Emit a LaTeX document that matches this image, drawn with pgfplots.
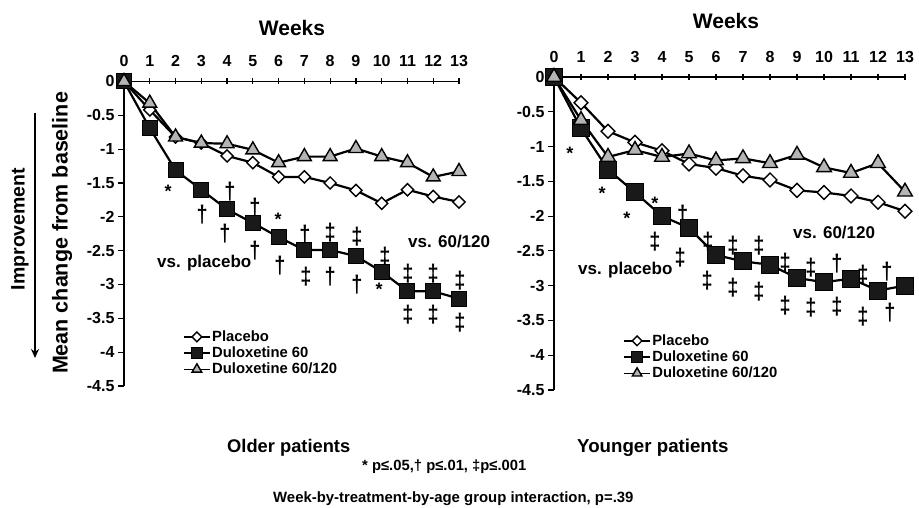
\documentclass[border=0pt]{standalone}
\usepackage{graphicx}
\usepackage{pgfplots}
\pgfplotsset{compat=1.18}
\usetikzlibrary{arrows.meta}
\usepackage{fontspec}
\setmainfont{Liberation Sans}
\definecolor{trigray}{RGB}{180,180,180}
\newcommand\fs[1]{\fontsize{#1}{#1}\selectfont\bfseries}
\newcommand\ann[3]{\node[font=\fs{18},inner sep=0pt] at (axis cs:#1,#2) {#3};}
\newcommand\dg{\scalebox{1}[1.2]{\fs{20}†}}
\newcommand\ddg{\scalebox{1}[1.2]{\fs{20}‡}}
\pgfplotsset{
  panel/.style={
    scale only axis, clip=false,
    xmin=0, xmax=13, ymin=-4.5, ymax=0,
    axis x line*=top, axis y line*=left,
    axis line style={line width=1.4pt},
    xtick={0,1,2,3,4,5,6,7,8,9,10,11,12,13},
    xticklabels={0,1,2,3,4,5,6,7,8,9,10,11,12,13},
    ytick={-4.5,-4,-3.5,-3,-2.5,-2,-1.5,-1,-0.5,0},
    yticklabels={-4.5,-4,-3.5,-3,-2.5,-2,-1.5,-1,-0.5,0},
    tick align=outside, major tick length=6pt,
    tick style={line width=1.2pt, black},
    xtick style={yshift=-3pt},
    ticklabel style={font=\fs{16}},
    xticklabel style={yshift=5pt},
    legend cell align=left,
    legend style={draw=none, fill=none, font=\fs{14.8}, anchor=north west,
      inner sep=0pt, row sep=1pt, nodes={inner sep=1.5pt}},
    legend image code/.code={\draw[mark repeat=2,mark phase=2,##1] plot coordinates {(0pt,0pt) (13pt,0pt) (26pt,0pt)};},
  },
  pl/.style={black, line width=2.2pt, mark=square*, mark options={rotate=45, fill=white, line width=1.4pt}},
  dl/.style={black, line width=2.2pt, mark=square*, mark options={fill=black!90, line width=1pt}},
  tl/.style={black, line width=2.2pt, mark=triangle*, mark options={fill=trigray, line width=1.4pt}},
}
\begin{document}
\begin{tikzpicture}[x=1pt,y=1pt]
\path[use as bounding box] (0,0) rectangle (919,508);

% ---------------- Older patients ----------------
\begin{axis}[panel, width=335pt, height=304.5pt, at={(124pt,122pt)}, anchor=south west,
  legend style={at={(0.176,0.187)}}]
\addplot[pl, mark size=4.3pt, legend image post style={mark size=3.4pt, line width=1.5pt}] coordinates {
(0,0)(1,-0.42)(2,-0.82)(3,-0.91)(4,-1.1)(5,-1.2)(6,-1.41)(7,-1.41)(8,-1.5)(9,-1.61)(10,-1.8)(11,-1.6)(12,-1.7)(13,-1.78)};
\addlegendentry{Placebo}
\addplot[dl, mark size=7.5pt, legend image post style={mark size=5.2pt, line width=1.5pt}] coordinates {
(0,0)(1,-0.69)(2,-1.31)(3,-1.6)(4,-1.89)(5,-2.09)(6,-2.3)(7,-2.49)(8,-2.49)(9,-2.58)(10,-2.81)(11,-3.1)(12,-3.1)(13,-3.21)};
\addlegendentry{Duloxetine 60}
\addplot[tl, mark size=8pt, legend image post style={mark size=5.5pt, line width=1.5pt}] coordinates {
(0,0)(1,-0.32)(2,-0.82)(3,-0.91)(4,-0.92)(5,-1.01)(6,-1.2)(7,-1.11)(8,-1.11)(9,-0.99)(10,-1.11)(11,-1.2)(12,-1.41)(13,-1.33)};
\addlegendentry{Duloxetine 60/120}
\ann{1.71}{-1.63}{*}
\ann{4.11}{-1.63}{\dg}
\ann{3.03}{-1.96}{\dg}
\ann{5.08}{-1.87}{\dg}
\ann{5.98}{-2.04}{*}
\ann{3.92}{-2.25}{\dg}
\ann{7.02}{-2.26}{\dg}
\ann{8.0}{-2.24}{\ddg}
\ann{9.04}{-2.29}{\ddg}
\ann{5.08}{-2.5}{\dg}
\ann{6.05}{-2.72}{\dg}
\ann{7.06}{-2.88}{\ddg}
\ann{8.0}{-2.88}{\dg}
\ann{9.04}{-3.0}{\dg}
\ann{10.13}{-2.59}{\ddg}
\ann{9.9}{-3.07}{*}
\ann{11.02}{-2.84}{\ddg}
\ann{12.0}{-2.84}{\ddg}
\ann{13.04}{-2.94}{\ddg}
\ann{11.02}{-3.44}{\ddg}
\ann{12.0}{-3.44}{\ddg}
\ann{13.04}{-3.56}{\ddg}
\node[font=\fs{17}, anchor=west, inner sep=0pt] at (axis cs:11.02,-2.37) {vs. 60/120};
\node[font=\fs{17}, anchor=west, inner sep=0pt] at (axis cs:1.28,-2.68) {vs. placebo};
\end{axis}

% ---------------- Younger patients ----------------
\begin{axis}[panel, width=351pt, height=313pt, at={(554pt,118pt)}, anchor=south west,
  legend style={at={(0.197,0.182)}}]
\addplot[pl, mark size=4.9pt, legend image post style={mark size=3.4pt, line width=1.5pt}] coordinates {
(0,0)(1,-0.37)(2,-0.78)(3,-0.94)(4,-1.06)(5,-1.25)(6,-1.31)(7,-1.42)(8,-1.48)(9,-1.63)(10,-1.66)(11,-1.71)(12,-1.8)(13,-1.93)};
\addlegendentry{Placebo}
\addplot[dl, mark size=8.5pt, legend image post style={mark size=5.2pt, line width=1.5pt}] coordinates {
(0,0)(1,-0.74)(2,-1.33)(3,-1.66)(4,-2.0)(5,-2.17)(6,-2.56)(7,-2.65)(8,-2.7)(9,-2.89)(10,-2.95)(11,-2.9)(12,-3.07)(13,-3.0)};
\addlegendentry{Duloxetine 60}
\addplot[tl, mark size=8.5pt, legend image post style={mark size=5.5pt, line width=1.5pt}] coordinates {
(0,0)(1,-0.62)(2,-1.15)(3,-1.05)(4,-1.15)(5,-1.1)(6,-1.2)(7,-1.17)(8,-1.24)(9,-1.12)(10,-1.3)(11,-1.38)(12,-1.24)(13,-1.65)};
\addlegendentry{Duloxetine 60/120}
\ann{0.59}{-1.09}{*}
\ann{1.78}{-1.67}{*}
\ann{2.7}{-2.03}{*}
\ann{3.74}{-1.81}{*}
\ann{4.77}{-1.98}{\dg}
\ann{3.74}{-2.37}{\ddg}
\ann{5.7}{-2.36}{\ddg}
\ann{6.63}{-2.43}{\ddg}
\ann{7.59}{-2.43}{\ddg}
\ann{4.67}{-2.6}{\ddg}
\ann{5.67}{-2.93}{\ddg}
\ann{6.63}{-3.03}{\ddg}
\ann{7.59}{-3.09}{\ddg}
\ann{8.56}{-2.67}{\ddg}
\ann{8.56}{-3.28}{\ddg}
\ann{9.52}{-2.74}{\ddg}
\ann{9.52}{-3.32}{\ddg}
\ann{10.48}{-2.69}{\dg}
\ann{10.48}{-3.3}{\ddg}
\ann{11.44}{-2.84}{\ddg}
\ann{11.44}{-3.45}{\ddg}
\ann{12.33}{-2.8}{\dg}
\ann{12.44}{-3.39}{\dg}
\node[font=\fs{17}, anchor=west, inner sep=0pt] at (axis cs:8.85,-2.24) {vs. 60/120};
\node[font=\fs{17}, anchor=west, inner sep=0pt] at (axis cs:0.89,-2.77) {vs. placebo};
\end{axis}

% ---------------- titles and labels ----------------
\node[font=\fs{21}] at (292,479.5) {Weeks};
\node[font=\fs{21}] at (726,487) {Weeks};
\node[font=\fs{19.5}, rotate=90] at (20,279) {Improvement};
\draw[line width=1.5pt, -{Stealth[length=9pt,width=8pt]}] (35,395) -- (35,150);
\node[font=\fs{21.5}, rotate=90] at (62,275) {Mean change from baseline};
\node[font=\fs{18.3}, anchor=base west, inner sep=0pt] at (227,55) {Older patients};
\node[font=\fs{18.7}, anchor=base west, inner sep=0pt] at (577,55) {Younger patients};
\node[font=\fs{14.8}, anchor=base west, inner sep=0pt] at (362,37) {* p≤.05,† p≤.01, ‡p≤.001};
\node[font=\fs{14.9}, anchor=base west, inner sep=0pt] at (273,5) {Week-by-treatment-by-age group interaction, p=.39};
\end{tikzpicture}
\end{document}
